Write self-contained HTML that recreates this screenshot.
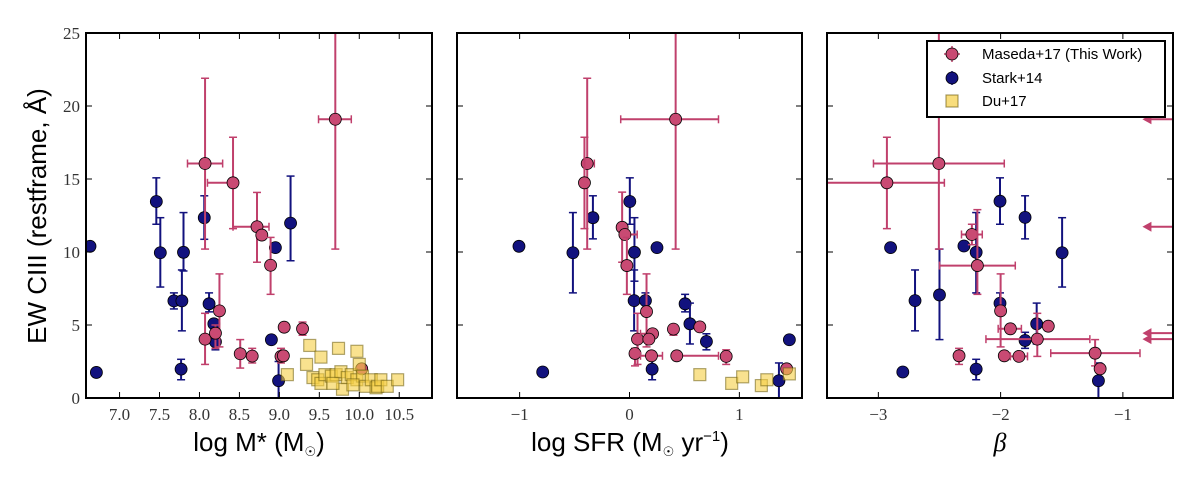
<!DOCTYPE html>
<html><head><meta charset="utf-8">
<style>
html,body{margin:0;padding:0;background:#fff;}
svg{display:block;}
.tk{font-family:"Liberation Serif",serif;font-size:17px;fill:#333;}
.lab{font-family:"Liberation Sans",sans-serif;font-size:26px;fill:#000;}
.leg{font-family:"Liberation Sans",sans-serif;font-size:15px;fill:#000;}
</style></head>
<body>
<svg id="chart" width="1200" height="483" viewBox="0 0 1200 483" xmlns="http://www.w3.org/2000/svg"></svg>
<script>
// ---------- data ----------
const yTicks=[0,5,10,15,20,25];
const p1Ticks=[7.0,7.5,8.0,8.5,9.0,9.5,10.0,10.5];
const p2Ticks=[-1,0,1];
const p3Ticks=[-3,-2,-1];

// Panel 1: log M*
const p1PinkX=[8.07,8.42,8.72,8.78,8.89,9.70,8.07,8.25,8.20,8.51,8.66,9.06,9.29,9.02,9.05,10.03];
const p1PinkY=[16.06,14.74,11.73,11.16,9.09,19.09,4.03,5.97,4.44,3.03,2.87,4.85,4.74,2.85,2.89,2.0];
const p1PinkYLo=[10.2,11.6,9.3,null,7.1,10.2,2.3,3.5,3.4,2.05,2.4,null,4.3,2.4,null,null];
const p1PinkYHi=[21.9,17.86,14.08,null,11.0,25.5,5.8,8.5,5.0,4.0,3.4,null,5.2,3.4,null,null];
const p1PinkXLo=[7.85,8.10,8.42,null,null,9.49,null,null,null,null,null,null,null,null,null,null];
const p1PinkXHi=[8.29,8.42,8.87,null,null,9.90,null,null,null,null,null,null,null,null,null,null];
const p1BlueX=[6.63,6.71,7.46,7.51,7.68,7.78,7.80,7.77,8.06,8.12,8.18,8.20,8.90,8.95,8.99,9.14];
const p1BlueY=[10.39,1.75,13.46,9.95,6.65,6.65,9.98,1.98,12.35,6.45,5.08,3.85,3.99,10.30,1.18,11.98];
const p1BlueYLo=[null,null,11.9,7.6,6.1,4.6,8.7,1.25,10.87,5.9,null,3.3,null,null,0,9.4];
const p1BlueYHi=[null,null,15.08,12.35,7.2,8.77,12.7,2.65,13.85,7.2,null,4.5,null,null,2.5,15.2];
const p1DuX=[9.10,9.38,9.34,9.52,9.74,9.97,9.42,9.48,9.52,9.57,9.65,9.71,9.77,9.79,9.85,9.90,9.97,10.00,10.04,10.08,10.15,10.21,10.23,10.27,10.35,10.48,9.67,9.92];
const p1DuY=[1.6,3.6,2.3,2.8,3.4,3.2,1.4,1.25,1.0,1.6,1.5,1.6,1.8,0.6,1.4,1.6,1.25,2.3,1.5,0.8,1.25,0.7,0.8,1.25,0.8,1.25,1.0,0.9];

// Panel 2: log SFR
const p2PinkX=[-0.385,-0.41,-0.067,-0.042,-0.024,0.42,0.073,0.155,0.21,0.05,0.2,0.40,0.43,0.64,0.88,1.43,0.176];
const p2PinkY=[16.06,14.74,11.69,11.2,9.07,19.09,4.03,5.92,4.4,3.05,2.89,4.72,2.89,4.87,2.85,2.0,4.03];
const p2PinkYLo=[10.2,11.6,9.3,null,7.1,10.2,2.3,3.5,null,2.2,null,4.3,null,null,2.3,null,null];
const p2PinkYHi=[21.9,17.86,14.1,null,11.0,25.5,5.8,8.5,null,3.4,null,5.0,null,null,3.3,null,null];
const p2PinkXLo=[-0.42,null,null,-0.06,null,-0.08,null,null,0.10,null,0.10,null,0.43,null,null,null,null];
const p2PinkXHi=[-0.32,null,null,0.07,null,0.81,null,null,0.25,null,0.30,null,0.81,null,null,null,null];
const p2BlueX=[-1.006,-0.79,-0.515,-0.333,0.003,0.045,0.25,0.042,0.145,0.506,0.55,0.70,0.206,1.36,1.455];
const p2BlueY=[10.39,1.78,9.95,12.35,13.46,9.98,10.3,6.67,6.67,6.45,5.08,3.87,1.98,1.18,3.99];
const p2BlueYLo=[null,null,7.2,10.9,11.9,8.0,null,4.6,6.1,5.9,3.7,3.3,1.25,0,null];
const p2BlueYHi=[null,null,12.7,13.85,15.08,12.35,null,8.77,7.2,7.1,6.5,4.4,2.65,2.4,null];
const p2DuX=[0.64,0.93,1.03,1.20,1.25,1.455];
const p2DuY=[1.6,1.0,1.45,0.85,1.25,1.65];

// Panel 3: beta
const p3PinkX=[-2.93,-2.505,-2.235,-2.19,-2.0,-1.92,-1.70,-1.61,-1.97,-1.85,-2.34,-1.227,-1.186];
const p3PinkY=[14.74,16.06,11.2,9.07,5.97,4.74,4.03,4.92,2.89,2.85,2.89,3.07,2.0];
const p3PinkYLo=[11.6,10.2,10.5,7.1,3.5,null,2.85,null,null,null,2.3,2.2,null];
const p3PinkYHi=[17.86,25.5,11.9,12.9,8.5,null,5.8,null,null,null,3.4,4.0,null];
const p3PinkXLo=[-3.42,-3.04,-2.32,-2.5,null,-2.02,-2.12,null,null,-1.92,-2.37,-1.59,null];
const p3PinkXHi=[-2.46,-1.97,-2.15,-1.88,null,-1.83,-1.27,null,null,-1.78,-2.31,-0.86,null];
const p3ArrowY=[19.09,11.73,4.44,4.03];
const p3BlueX=[-2.90,-2.80,-2.70,-2.50,-2.30,-2.20,-2.20,-2.005,-2.005,-1.80,-1.80,-1.705,-1.497,-1.20];
const p3BlueY=[10.3,1.78,6.67,7.06,10.41,9.98,1.98,13.48,6.49,12.37,3.94,5.08,9.95,1.18];
const p3BlueYLo=[null,null,4.6,4.0,null,7.2,1.25,11.9,5.9,10.9,3.4,3.7,7.6,0];
const p3BlueYHi=[null,null,8.77,10.2,null,12.7,2.65,15.08,7.2,13.85,4.5,6.5,12.35,2.4];

// ---------- drawing ----------
const svg=document.getElementById('chart');
const NS='http://www.w3.org/2000/svg';
const PINK='#c94a73', PINKE='#c0406c', BLUE='#12127e', YEL='#f5cf45';
const TOP=33, BOT=398;
function mk(tag,attrs,parent){const e=document.createElementNS(NS,tag);for(const k in attrs)e.setAttribute(k,attrs[k]);(parent||svg).appendChild(e);return e;}
function yS(v){return BOT-(v/25)*(BOT-TOP);}

const panels=[
 {name:'mass',L:86,R:432,dom:[6.58,10.91],ticks:p1Ticks,fmt:v=>v.toFixed(1),lx:259,
  pX:p1PinkX,pY:p1PinkY,pYL:p1PinkYLo,pYH:p1PinkYHi,pXL:p1PinkXLo,pXH:p1PinkXHi,
  bX:p1BlueX,bY:p1BlueY,bYL:p1BlueYLo,bYH:p1BlueYHi,dX:p1DuX,dY:p1DuY,yl:true},
 {name:'sfr',L:457,R:802,dom:[-1.57,1.57],ticks:p2Ticks,fmt:v=>v<0?'−'+(-v):String(v),lx:630,
  pX:p2PinkX,pY:p2PinkY,pYL:p2PinkYLo,pYH:p2PinkYHi,pXL:p2PinkXLo,pXH:p2PinkXHi,
  bX:p2BlueX,bY:p2BlueY,bYL:p2BlueYLo,bYH:p2BlueYHi,dX:p2DuX,dY:p2DuY},
 {name:'beta',L:827,R:1173,dom:[-3.42,-0.59],ticks:p3Ticks,fmt:v=>'−'+(-v),lx:1000,
  pX:p3PinkX,pY:p3PinkY,pYL:p3PinkYLo,pYH:p3PinkYHi,pXL:p3PinkXLo,pXH:p3PinkXHi,
  bX:p3BlueX,bY:p3BlueY,bYL:p3BlueYLo,bYH:p3BlueYHi,dX:[],dY:[],arrows:p3ArrowY}
];

panels.forEach((P,pi)=>{
  const g=mk('g',{});
  
  
  const xS=v=>P.L+(v-P.dom[0])/(P.dom[1]-P.dom[0])*(P.R-P.L);
  const clip=mk('clipPath',{id:'clip'+pi},g);
  mk('rect',{x:P.L,y:TOP,width:P.R-P.L,height:BOT-TOP},clip);
  const data=mk('g',{'clip-path':'url(#clip'+pi+')'},g);
  
  

  function ebar(x,y,xl,xh,yl,yh,col,cap){
    if(yl!=null){mk('line',{x1:xS(x),x2:xS(x),y1:yS(yl),y2:yS(yh),stroke:col,'stroke-width':2},data);
      [yl,yh].forEach(v=>mk('line',{x1:xS(x)-cap,x2:xS(x)+cap,y1:yS(v),y2:yS(v),stroke:col,'stroke-width':1.5},data));}
    if(xl!=null){mk('line',{x1:xS(xl),x2:xS(xh),y1:yS(y),y2:yS(y),stroke:col,'stroke-width':2},data);
      [xl,xh].forEach(v=>mk('line',{x1:xS(v),x2:xS(v),y1:yS(y)-cap,y2:yS(y)+cap,stroke:col,'stroke-width':1.5},data));}
  }
  // Stark
  P.bX.forEach((x,i)=>{
    ebar(x,P.bY[i],null,null,P.bYL[i],P.bYH[i],BLUE,4);
    const c=mk('circle',{cx:xS(x),cy:yS(P.bY[i]),r:6,fill:BLUE,stroke:'#000','stroke-width':0.8},data);
    
    
  });
  // Maseda
  P.pX.forEach((x,i)=>{
    ebar(x,P.pY[i],P.pXL[i],P.pXH[i],P.pYL[i],P.pYH[i],PINKE,4);
    const c=mk('circle',{cx:xS(x),cy:yS(P.pY[i]),r:6,fill:PINK,stroke:'#000','stroke-width':0.8},data);
    
    
  });
  // Du+17 squares (drawn on top, semi-transparent)
  P.dX.forEach((x,i)=>{
    const r=mk('rect',{x:xS(x)-6,y:yS(P.dY[i])-6,width:12,height:12,fill:YEL,'fill-opacity':0.6,stroke:'#6e5e10','stroke-opacity':0.55,'stroke-width':1.2},data);
    
    
  });
  if(P.arrows){P.arrows.forEach(v=>{
    const a=mk('g',{},data);
    
    
    mk('line',{x1:P.R,x2:xS(-0.84)+4,y1:yS(v),y2:yS(v),stroke:PINKE,'stroke-width':2},a);
    mk('path',{d:`M${xS(-0.84)} ${yS(v)} l9 -5 l0 10 z`,fill:PINKE},a);
  });}
  // frame
  const fr=mk('rect',{x:P.L,y:TOP,width:P.R-P.L,height:BOT-TOP,fill:'none',stroke:'#000','stroke-width':2},g);
  
  
  // x ticks
  P.ticks.forEach(t=>{
    const x=xS(t);
    mk('line',{x1:x,x2:x,y1:BOT,y2:BOT-6,stroke:'#000','stroke-width':1},g);
    mk('line',{x1:x,x2:x,y1:TOP,y2:TOP+6,stroke:'#000','stroke-width':1},g);
    const tx=mk('text',{x:x,y:BOT+22,'text-anchor':'middle',class:'tk'},g);
    tx.textContent=P.fmt(t);
    
    
  });
  // y ticks
  yTicks.forEach(t=>{
    const y=yS(t);
    mk('line',{x1:P.L,x2:P.L+6,y1:y,y2:y,stroke:'#000','stroke-width':1},g);
    mk('line',{x1:P.R,x2:P.R-6,y1:y,y2:y,stroke:'#000','stroke-width':1},g);
    if(P.yl){const tx=mk('text',{x:P.L-6,y:y+6,'text-anchor':'end',class:'tk'},g);
      tx.textContent=String(t);
      
      }
  });
});

// x-axis titles with subscript sun symbol
function sub(parent,txt){const s=mk('tspan',{'font-size':'13','dy':'5'},parent);s.textContent=txt;return s;}
const xt1=mk('text',{x:259,y:451,'text-anchor':'middle',class:'lab'});


xt1.appendChild(document.createTextNode('log M* (M'));
sub(xt1,'☉');
const c1=mk('tspan',{dy:'-5'},xt1);c1.textContent=')';

const xt2=mk('text',{x:630,y:451,'text-anchor':'middle',class:'lab'});


xt2.appendChild(document.createTextNode('log SFR (M'));
sub(xt2,'☉');
const c2=mk('tspan',{dy:'-5'},xt2);c2.textContent=' yr';
const c3=mk('tspan',{'font-size':'15',dy:'-10'},xt2);c3.textContent='−1';
const c4=mk('tspan',{dy:'10'},xt2);c4.textContent=')';

const xt3=mk('text',{x:1000,y:451,'text-anchor':'middle',class:'lab',style:'font-family:"Liberation Serif",serif;font-style:italic'});
xt3.textContent='β';



const yl=mk('text',{x:0,y:0,'text-anchor':'middle',class:'lab',transform:'translate(46,216) rotate(-90)'});
yl.textContent='EW CIII (restframe, Å)';



// legend
const lg=mk('g',{});


mk('rect',{x:927,y:41,width:238,height:76,fill:'#fff',stroke:'#000','stroke-width':2},lg);
const legNames=['Maseda+17 (This Work)','Stark+14','Du+17'];
const legY=[54,78,101];
legNames.forEach((n,i)=>{
  const e=mk('g',{},lg);
  
  
  if(i===0){mk('line',{x1:952,x2:952,y1:46,y2:62,stroke:PINKE,'stroke-width':1.5},e);
    mk('line',{x1:944,x2:960,y1:54,y2:54,stroke:PINKE,'stroke-width':1.5},e);
    mk('circle',{cx:952,cy:54,r:6,fill:PINK,stroke:'#000','stroke-width':0.8},e);}
  else if(i===1){mk('line',{x1:952,x2:952,y1:71,y2:85,stroke:BLUE,'stroke-width':1.5},e);
    mk('circle',{cx:952,cy:78,r:6,fill:BLUE,stroke:'#000','stroke-width':0.8},e);}
  else{mk('rect',{x:946,y:95,width:12,height:12,fill:YEL,'fill-opacity':0.7,stroke:'#6e5e10','stroke-opacity':0.6,'stroke-width':1.2},e);}
  const t=mk('text',{x:982,y:legY[i]+5,class:'leg'},e);
  t.textContent=n;
});
</script>
</body></html>
